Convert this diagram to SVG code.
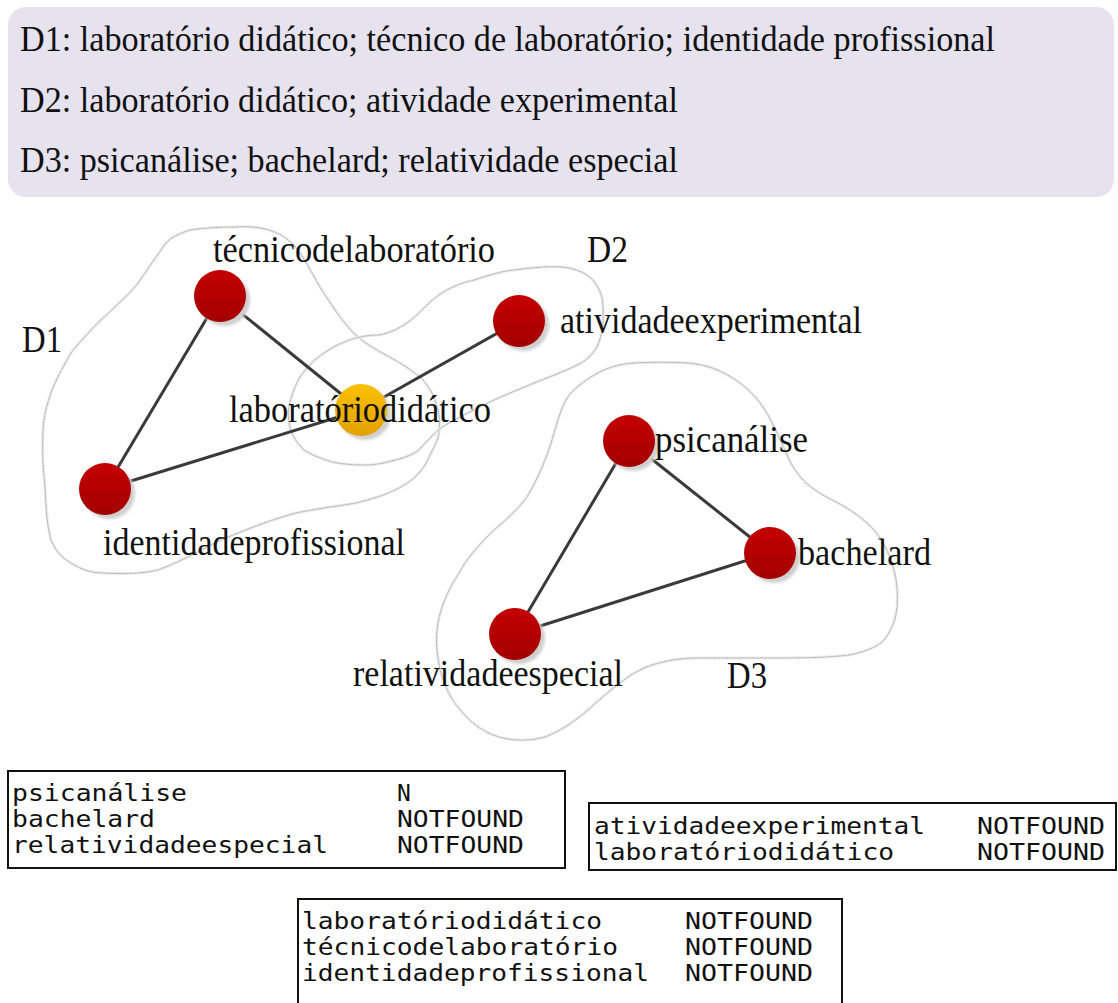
<svg xmlns="http://www.w3.org/2000/svg" width="1118" height="1003" viewBox="0 0 1118 1003">
<style>
.hdr{font-family:"Liberation Serif","Times New Roman",serif;font-size:35px;fill:#111}
.lbl{font-family:"Liberation Serif","Times New Roman",serif;font-size:37px;fill:#111}
.mono{font-family:"DejaVu Sans Mono","Liberation Mono",monospace;font-size:23px;fill:#111}
.hull-o{fill:none;stroke:#ececec;stroke-width:3}
.hull{fill:none;stroke:#a8a8a8;stroke-width:0.9;stroke-dasharray:2 0.6}
.edge{stroke:#3a3a3a;stroke-width:3;fill:none}
.shadow{fill:#cfcfcf;filter:url(#blur)}
.red{fill:url(#gRed)}
.yel{fill:url(#gYel)}
.tbl{fill:#fff;stroke:#111;stroke-width:2}
</style>
<defs>
<linearGradient id="gRed" x1="0" y1="0" x2="0" y2="1">
<stop offset="0" stop-color="#c40000"/>
<stop offset="1" stop-color="#a30000"/>
</linearGradient>
<linearGradient id="gYel" x1="0" y1="0" x2="0" y2="1">
<stop offset="0" stop-color="#fac000"/>
<stop offset="1" stop-color="#e3a100"/>
</linearGradient>
<filter id="blur" x="-30%" y="-30%" width="160%" height="160%">
<feGaussianBlur stdDeviation="1.5"/>
</filter>
<path id="pD1" d="M190,230 C178,234 170,238 166,243 C155,258 146,272 138,283 C128,296 122,300 119,303 C108,314 98,322 91,330 C82,340 76,346 71,353 C60,372 54,384 51,393 C45,410 43,420 43,433 C42,455 43,470 45,487 C46,510 47,525 51,540 C56,552 62,558 71,563 C82,570 92,573 103,573 C125,574 140,574 158,570 C185,560 200,550 221,540 C250,528 270,520 296,513 C320,508 340,506 356,503 C372,499 385,495 395,490 C405,485 413,480 419,473 C425,466 428,460 431,453 C435,445 438,440 439,433 C440,424 440,415 437,407 C434,396 430,388 423,380 C415,372 405,366 395,360 C386,355 380,352 372,347 C362,341 355,335 348,327 C338,315 328,300 320,287 C313,275 307,263 300,253 C293,243 286,237 277,233 C263,227 250,226 237,227 C220,227 203,228 190,230 Z"/>
<path id="pD2" d="M427,305 C440,292 456,284 474,280 C490,275 502,271 514,270 C530,268 546,266 561,267 C575,268 586,273 593,280 C600,289 603,297 603,307 C604,322 602,336 597,347 C591,357 583,363 573,367 C560,373 547,378 534,383 C520,389 507,394 494,400 C480,407 467,413 455,420 C447,424 440,428 435,433 C429,439 424,444 419,450 C412,455 404,458 395,460 C385,463 375,465 364,465 C352,465 342,464 332,462 C320,458 311,455 304,450 C297,443 292,436 290,427 C288,420 288,413 289,407 C291,396 295,386 300,377 C307,367 315,359 324,353 C334,346 345,341 356,338 C364,336 372,335 379,335 C385,334 390,332 395,330 C401,327 406,324 411,320 C417,315 422,310 427,305 Z"/>
<path id="pD3" d="M634,363 C618,364 603,369 591,377 C580,384 571,391 566,400 C559,413 556,427 552,440 C546,460 537,480 527,497 C516,512 503,522 491,533 C478,546 467,558 459,573 C448,590 441,606 438,623 C435,640 437,657 441,673 C446,690 453,703 463,713 C474,726 486,733 499,737 C514,741 531,741 545,737 C561,731 575,721 588,710 C599,700 609,691 620,683 C630,675 640,669 652,665 C667,660 683,658 699,658 C725,658 751,658 777,658 C800,658 825,658 849,655 C864,652 876,648 884,640 C892,630 896,619 897,607 C898,593 897,580 893,567 C889,553 883,540 874,530 C864,519 851,510 838,503 C826,497 815,491 806,483 C797,474 792,466 788,457 C780,440 773,422 763,407 C754,394 743,384 731,377 C718,369 703,364 688,363 C670,362 652,362 634,363 Z"/>
</defs>
<rect width="1118" height="1003" fill="#fff"/>

<g id="legend">
<rect x="8" y="7" width="1106" height="190" rx="18" fill="#e6e3ee"/>
<text class="hdr" x="20" y="51" textLength="975" lengthAdjust="spacingAndGlyphs">D1: laboratório didático; técnico de laboratório; identidade profissional</text>
<text class="hdr" x="20" y="112" textLength="658" lengthAdjust="spacingAndGlyphs">D2: laboratório didático; atividade experimental</text>
<text class="hdr" x="20" y="172" textLength="658" lengthAdjust="spacingAndGlyphs">D3: psicanálise; bachelard; relatividade especial</text>
</g>

<g id="hulls">
<g id="hull-D1">
<use href="#pD1" class="hull-o"/>
<use href="#pD1" class="hull"/>
</g>
<g id="hull-D2">
<use href="#pD2" class="hull-o"/>
<use href="#pD2" class="hull"/>
</g>
<g id="hull-D3">
<use href="#pD3" class="hull-o"/>
<use href="#pD3" class="hull"/>
</g>
<text class="lbl" x="22" y="352" textLength="40" lengthAdjust="spacingAndGlyphs">D1</text>
<text class="lbl" x="587" y="262" textLength="41" lengthAdjust="spacingAndGlyphs">D2</text>
<text class="lbl" x="727" y="688" textLength="40" lengthAdjust="spacingAndGlyphs">D3</text>
</g>

<g id="connectors">
<line class="edge" x1="220" y1="296" x2="361" y2="410"/>
<line class="edge" x1="220" y1="296" x2="105" y2="489"/>
<line class="edge" x1="105" y1="489" x2="361" y2="410"/>
<line class="edge" x1="361" y1="410" x2="519" y2="321"/>
<line class="edge" x1="629" y1="441" x2="770" y2="553"/>
<line class="edge" x1="629" y1="441" x2="515" y2="634"/>
<line class="edge" x1="515" y1="634" x2="770" y2="553"/>
</g>

<g id="node-tecnico">
<circle class="shadow" cx="224" cy="300" r="26"/>
<circle class="red" cx="220" cy="296" r="26"/>
<text class="lbl" x="213" y="262" textLength="282" lengthAdjust="spacingAndGlyphs">técnicodelaboratório</text>
</g>
<g id="node-atividade">
<circle class="shadow" cx="523" cy="325" r="26"/>
<circle class="red" cx="519" cy="321" r="26"/>
<text class="lbl" x="560" y="333" textLength="302" lengthAdjust="spacingAndGlyphs">atividadeexperimental</text>
</g>
<g id="node-laboratorio">
<circle class="shadow" cx="365" cy="414" r="26"/>
<circle class="yel" cx="361" cy="410" r="26"/>
<text class="lbl" x="229" y="422" textLength="262" lengthAdjust="spacingAndGlyphs">laboratóriodidático</text>
</g>
<g id="node-identidade">
<circle class="shadow" cx="109" cy="493" r="26"/>
<circle class="red" cx="105" cy="489" r="26"/>
<text class="lbl" x="103" y="555" textLength="302" lengthAdjust="spacingAndGlyphs">identidadeprofissional</text>
</g>
<g id="node-psicanalise">
<circle class="shadow" cx="633" cy="445" r="26"/>
<circle class="red" cx="629" cy="441" r="26"/>
<text class="lbl" x="655" y="452" textLength="153" lengthAdjust="spacingAndGlyphs">psicanálise</text>
</g>
<g id="node-bachelard">
<circle class="shadow" cx="774" cy="557" r="26"/>
<circle class="red" cx="770" cy="553" r="26"/>
<text class="lbl" x="798" y="565" textLength="133" lengthAdjust="spacingAndGlyphs">bachelard</text>
</g>
<g id="node-relatividade">
<circle class="shadow" cx="519" cy="638" r="26"/>
<circle class="red" cx="515" cy="634" r="26"/>
<text class="lbl" x="353" y="686" textLength="270" lengthAdjust="spacingAndGlyphs">relatividadeespecial</text>
</g>

<g id="table-D3">
<rect class="tbl" x="8" y="771" width="557" height="97"/>
<text class="mono" x="12" y="801" textLength="175" lengthAdjust="spacingAndGlyphs">psicanálise</text>
<text class="mono" x="397" y="801">N</text>
<text class="mono" x="12" y="827" textLength="143" lengthAdjust="spacingAndGlyphs">bachelard</text>
<text class="mono" x="397" y="827" textLength="127" lengthAdjust="spacingAndGlyphs">NOTFOUND</text>
<text class="mono" x="12" y="853" textLength="316" lengthAdjust="spacingAndGlyphs">relatividadeespecial</text>
<text class="mono" x="397" y="853" textLength="127" lengthAdjust="spacingAndGlyphs">NOTFOUND</text>
</g>
<g id="table-D2">
<rect class="tbl" x="589" y="803" width="527" height="67"/>
<text class="mono" x="594" y="834" textLength="331" lengthAdjust="spacingAndGlyphs">atividadeexperimental</text>
<text class="mono" x="977" y="834" textLength="128" lengthAdjust="spacingAndGlyphs">NOTFOUND</text>
<text class="mono" x="594" y="860" textLength="300" lengthAdjust="spacingAndGlyphs">laboratóriodidático</text>
<text class="mono" x="977" y="860" textLength="128" lengthAdjust="spacingAndGlyphs">NOTFOUND</text>
</g>
<g id="table-D1">
<rect class="tbl" x="298" y="899" width="544" height="110"/>
<text class="mono" x="302" y="929" textLength="300" lengthAdjust="spacingAndGlyphs">laboratóriodidático</text>
<text class="mono" x="685" y="929" textLength="128" lengthAdjust="spacingAndGlyphs">NOTFOUND</text>
<text class="mono" x="302" y="955" textLength="316" lengthAdjust="spacingAndGlyphs">técnicodelaboratório</text>
<text class="mono" x="685" y="955" textLength="128" lengthAdjust="spacingAndGlyphs">NOTFOUND</text>
<text class="mono" x="302" y="981" textLength="347" lengthAdjust="spacingAndGlyphs">identidadeprofissional</text>
<text class="mono" x="685" y="981" textLength="128" lengthAdjust="spacingAndGlyphs">NOTFOUND</text>
</g>
</svg>
